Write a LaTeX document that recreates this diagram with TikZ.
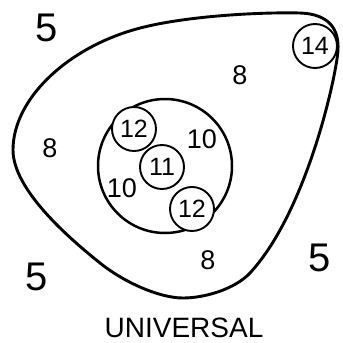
\documentclass[tikz,border=0pt]{standalone}
\usepackage{fontspec}
\setmainfont{Liberation Sans}
\begin{document}
\begin{tikzpicture}[x=1pt, y=-1pt,
  ring/.style={draw, circle, fill=white, line width=1.9pt, minimum size=44pt,
    inner sep=0pt, font=\fontsize{25}{25}\selectfont},
  region/.style={inner sep=0pt, font=\fontsize{27}{27}\selectfont},
  outside/.style={inner sep=0pt, font=\fontsize{40}{40}\selectfont}
]
\useasboundingbox (0,0) rectangle (343,343);
\draw[line width=2.9pt] (300,13) .. controls (330,14) and (339,30) .. (338,50)
  .. controls (337,72) and (308,210) .. (250,273)
  .. controls (235,289) and (205,298) .. (183,298)
  .. controls (160,298) and (125,283) .. (100,263)
  .. controls (70,239) and (13,190) .. (13,150)
  .. controls (13,100) and (65,50) .. (133,30)
  .. controls (180,16) and (260,12) .. cycle;
\node[draw, circle, line width=2.5pt, minimum size=134pt] (subset) at (165,166) {};
\node[ring] (twelveA) at (134,129) {12};
\node[ring] (eleven) at (162,167) {11};
\node[ring] (twelveB) at (192,209) {12};
\node[ring] (fourteen) at (315,46) {14};
\node[region] (tenA) at (202,139) {10};
\node[region] (tenB) at (122,188) {10};
\node[region] (eightA) at (240,75) {8};
\node[region] (eightB) at (50,148) {8};
\node[region] (eightC) at (208,260) {8};
\node[outside] (fiveA) at (47,28) {5};
\node[outside] (fiveB) at (320,258) {5};
\node[outside] (fiveC) at (37,277) {5};
\node[inner sep=0pt, font=\fontsize{28}{28}\selectfont] (universal) at (184,328) {UNIVERSAL};
\end{tikzpicture}
\end{document}
